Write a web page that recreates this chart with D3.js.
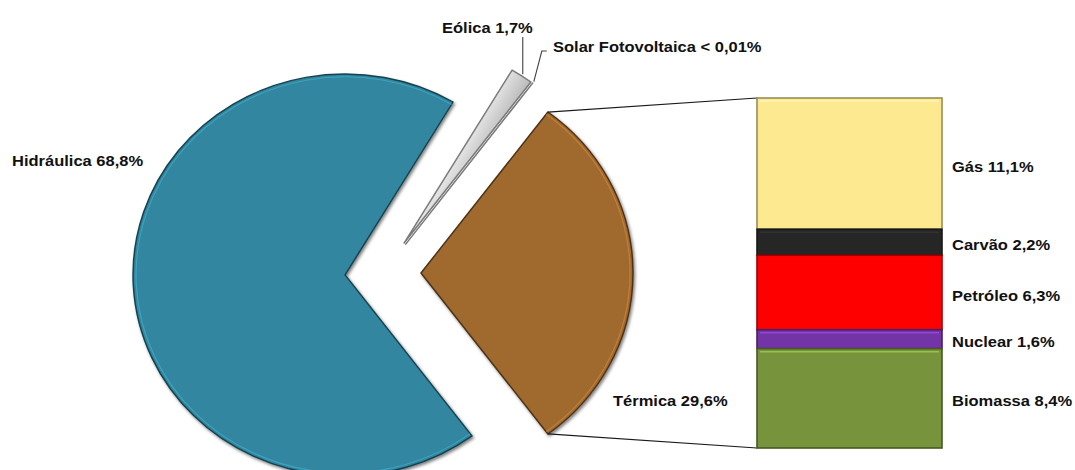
<!DOCTYPE html>
<html>
<head>
<meta charset="utf-8">
<title>Matriz elétrica</title>
<script src="https://d3js.org/d3.v7.min.js"></script>
<style>
  body { margin: 0; background: #fff; }
  svg text { font-family: "Liberation Sans", Arial, sans-serif; font-weight: bold; font-size: 16.5px; fill: #111; }
</style>
</head>
<body>
<svg id="chart" width="1075" height="470"></svg>
<script>
// pie slices, clockwise starting at Térmica
const pieNames  = ['Térmica', 'Hidráulica', 'Eólica', 'Solar Fotovoltaica'];
const pieValues = [29.6, 68.8, 1.7, 0.01];
const pieLabels = ['Térmica 29,6%', 'Hidráulica 68,8%', 'Eólica 1,7%', 'Solar Fotovoltaica < 0,01%'];
const pieColors = ['#a0692f', '#31869f', 'url(#eolGrad)', '#bfbfbf'];

// breakdown of Térmica, top to bottom of the bar
const barNames  = ['Gás', 'Carvão', 'Petróleo', 'Nuclear', 'Biomassa'];
const barValues = [11.1, 2.2, 6.3, 1.6, 8.4];
const barLabels = ['Gás 11,1%', 'Carvão 2,2%', 'Petróleo 6,3%', 'Nuclear 1,6%', 'Biomassa 8,4%'];
const barColors = ['#fde98f', '#262626', '#ff0000', '#7334a6', '#77933c'];

const svg = d3.select('#chart');

// defs
const defs = svg.append('defs');
const grad = defs.append('linearGradient').attr('id', 'eolGrad')
  .attr('x1', 0).attr('y1', 0.1).attr('x2', 1).attr('y2', 0.9);
grad.append('stop').attr('offset', '0%').attr('stop-color', '#ffffff');
grad.append('stop').attr('offset', '40%').attr('stop-color', '#f4f4f4');
grad.append('stop').attr('offset', '75%').attr('stop-color', '#8c8c8c');
grad.append('stop').attr('offset', '100%').attr('stop-color', '#c8c8c8');
const shadow = defs.append('filter').attr('id', 'shadow')
  .attr('x', '-10%').attr('y', '-10%').attr('width', '120%').attr('height', '120%');
shadow.append('feDropShadow').attr('dx', 1.5).attr('dy', 2)
  .attr('stdDeviation', 1.8).attr('flood-color', '#000').attr('flood-opacity', 0.5);

// pie geometry
const cx = 383, cy = 273, r = 212, sy = 0.948, explode = 38;
const total = d3.sum(pieValues);
const start = Math.PI / 2 - Math.PI * pieValues[0] / total;   // Térmica centred on the right
const pie = d3.pie().sort(null).value(d => d).startAngle(start).endAngle(start + 2 * Math.PI);
const arcs = pie(pieValues);
const arc = d3.arc().innerRadius(0).outerRadius(r);
const rim = d3.arc().innerRadius(r - 3).outerRadius(r - 3);

const mid = d => (d.startAngle + d.endAngle) / 2;
// screen point for angle a at radius rr of an exploded slice d
function pt(d, a, rr) {
  const m = mid(d);
  return [cx + explode * Math.sin(m) + rr * Math.sin(a),
          cy + sy * (-explode * Math.cos(m) - rr * Math.cos(a))];
}

const pieG = svg.append('g').attr('transform', `translate(${cx},${cy}) scale(1,${sy})`);
const slices = pieG.selectAll('g.slice').data(arcs).enter().append('g')
  .attr('class', 'slice')
  .attr('transform', d => `translate(${explode * Math.sin(mid(d))},${-explode * Math.cos(mid(d))})`);

slices.append('path')
  .attr('d', arc)
  .attr('fill', (d, i) => pieColors[i])
  .attr('stroke', (d, i) => i < 2 ? d3.color(pieColors[i]).darker(2) : '#7a7a7a')
  .attr('stroke-width', 1.5)
  .attr('stroke-linejoin', 'round')
  .attr('filter', (d, i) => i < 2 ? 'url(#shadow)' : null);

slices.filter((d, i) => i < 2).append('path')
  .attr('d', rim)
  .attr('fill', 'none')
  .attr('stroke', (d, i) => d3.color(pieColors[i]).brighter(0.9))
  .attr('stroke-width', 1.2)
  .attr('stroke-opacity', 0.55);

// bar of Térmica
const barX = 757, barW = 185;
const y = d3.scaleLinear().domain([0, d3.sum(barValues)]).range([98, 448]);
const cum = d3.cumsum(barValues);
const segs = barValues.map((v, i) => ({ v, y0: cum[i] - v, y1: cum[i], i }));

// connector lines
const term = arcs[0];
const topCorner = pt(term, term.startAngle, r);
const botCorner = pt(term, term.endAngle, r);
svg.append('path')
  .attr('d', `M${topCorner[0]},${topCorner[1]}L${barX},${y(0)}M${botCorner[0]},${botCorner[1]}L${barX},${y(d3.sum(barValues))}`)
  .attr('stroke', '#1a1a1a').attr('stroke-width', 1.2).attr('fill', 'none');

const barG = svg.append('g');
barG.selectAll('rect.seg').data(segs).enter().append('rect')
  .attr('class', 'seg')
  .attr('x', barX).attr('width', barW)
  .attr('y', d => y(d.y0)).attr('height', d => y(d.y1) - y(d.y0))
  .attr('fill', d => barColors[d.i])
  .attr('stroke', d => d3.color(barColors[d.i]).darker(1.4))
  .attr('stroke-width', 1.6);
barG.selectAll('line.hl').data(segs).enter().append('line')
  .attr('x1', barX + 3).attr('x2', barX + barW - 3)
  .attr('y1', d => y(d.y0) + 3).attr('y2', d => y(d.y0) + 3)
  .attr('stroke', d => d3.color(barColors[d.i]).brighter(1.2))
  .attr('stroke-opacity', 0.55).attr('stroke-width', 1.5);

// labels
function label(x, yy, txt) {
  svg.append('text')
    .attr('transform', `translate(${x},${yy}) scale(1,0.88)`)
    .attr('dominant-baseline', 'central')
    .text(txt);
}
label(12, 161, pieLabels[1]);
label(613, 401, pieLabels[0]);
label(442, 28, pieLabels[2]);
label(553, 47, pieLabels[3]);
segs.forEach(d => label(952, (y(d.y0) + y(d.y1)) / 2 + 3, barLabels[d.i]));

// leader lines for the small slices
const eol = arcs[2], sol = arcs[3];
const eolP = pt(eol, mid(eol), r + 2);
const solP = pt(sol, mid(sol), r + 2);
svg.append('path')
  .attr('d', `M${eolP[0]},${eolP[1]}L${eolP[0]},37`)
  .attr('stroke', '#404040').attr('stroke-width', 1.1).attr('fill', 'none');
svg.append('path')
  .attr('d', `M${solP[0]},${solP[1]}L${solP[0] + 8},51L${solP[0] + 13},51`)
  .attr('stroke', '#404040').attr('stroke-width', 1.1).attr('fill', 'none');
</script>
</body>
</html>
